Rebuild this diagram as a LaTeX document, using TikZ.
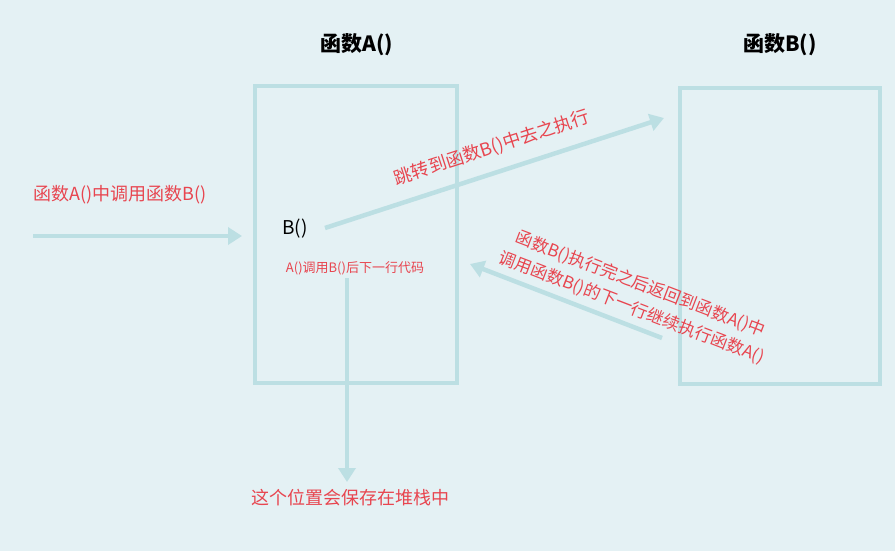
\documentclass[tikz,border=0pt]{standalone}
\usepackage{fontspec}
\usetikzlibrary{arrows.meta}
\newfontfamily\cjk{Noto Sans CJK SC}
\begin{document}
\begin{tikzpicture}[x=1pt,y=-1pt,
  ln/.style={draw=lb,line width=4.5pt},
  arr/.style={ln,-{Triangle[length=14pt,width=17pt]}},
  rt/.style={text=rd,font=\cjk\fontsize{18}{22}\selectfont},
  bt/.style={text=black,font=\cjk\bfseries\fontsize{21}{24}\selectfont}]
\definecolor{lb}{HTML}{BCDFE3}
\definecolor{rd}{HTML}{E8454F}
\definecolor{bg}{HTML}{E4F1F4}
\fill[bg] (0,0) rectangle (895,551);
\useasboundingbox (0,0) rectangle (895,551);
\node[ln,minimum width=202pt,minimum height=297pt] (A) at (356,234.5) {};
\node[ln,minimum width=200pt,minimum height=296pt] (B) at (780,236) {};
\node[bt] (ta) at (357,45) {函数A()};
\node[bt] (tb) at (780,45) {函数B()};
\coordinate (l0) at (33,236);
\coordinate (l1) at (242,236);
\draw[arr] (l0) -- (l1);
\node[rt] (lt) at (120,195) {函数A()中调用函数B()};
\node[text=black,font=\cjk\fontsize{19}{22}\selectfont] (bc) at (295,229) {B()};
\node[text=rd,font=\cjk\fontsize{13}{15}\selectfont] (nx) at (355,268) {A()调用B()后下一行代码};
\coordinate (j0) at (325,228);
\coordinate (j1) at (664,118);
\draw[arr] (j0) -- (j1);
\node[rt,rotate=18] (jt) at (492,148) {跳转到函数B()中去之执行};
\coordinate (r0) at (662,338);
\coordinate (r1) at (470,264);
\draw[arr] (r0) -- (r1);
\node[rt,rotate=-21,align=center,font=\cjk\fontsize{17}{25}\selectfont] (rtx) at (636,296) {函数B()执行完之后返回到函数A()中\\调用函数B()的下一行继续执行函数A()};
\coordinate (d0) at (347,278);
\coordinate (d1) at (347,482);
\draw[arr] (d0) -- (d1);
\node[rt] (st) at (350,498) {这个位置会保存在堆栈中};
\end{tikzpicture}
\end{document}
